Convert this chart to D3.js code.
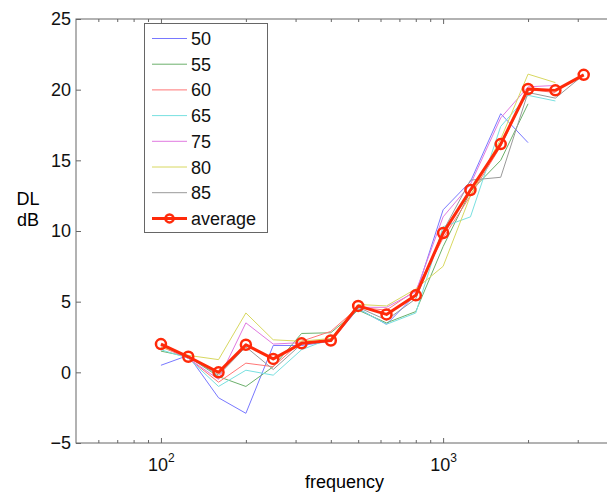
<!DOCTYPE html>
<html>
<head>
<meta charset="utf-8">
<script src="https://cdn.jsdelivr.net/npm/d3@7"></script>
<style>
  body { margin: 0; background: #fff; }
  text { font-family: "Liberation Sans", Arial, sans-serif; }
</style>
</head>
<body>
<div id="chart"></div>
<script>
const freqs = [100, 125, 160, 200, 250, 315, 400, 500, 630, 800, 1000, 1250, 1600, 2000, 2500, 3150];

const s50 = [0.5, 1.2, -1.8, -2.9, 1.9, 1.9, 2.2, 4.5, 3.4, 5.5, 11.5, 13.5, 18.3, 16.25];
const s55 = [1.5, 1.1, -0.3, -1.0, 0.4, 2.75, 2.8, 4.4, 3.5, 4.3, 8.9, 12.8, 15.0, 19.0];
const s60 = [1.8, 1.0, -0.7, 0.65, 0.4, 2.2, 2.9, 4.6, 4.4, 5.8, 9.5, 12.5, 16.0, 20.0, 19.8];
const s65 = [1.6, 1.0, -1.0, 0.15, -0.2, 1.6, 2.4, 4.5, 3.4, 4.2, 10.3, 11.0, 17.4, 19.6, 19.2];
const s75 = [1.9, 1.0, -0.5, 3.5, 2.0, 2.1, 2.2, 4.6, 4.6, 5.7, 11.0, 13.3, 18.0, 20.2, 20.3];
const s80 = [1.8, 1.2, 0.9, 4.2, 2.3, 2.2, 2.4, 4.8, 4.7, 5.9, 7.5, 12.5, 16.5, 21.1, 20.5];
const s85 = [2.0, 1.1, -0.2, 1.8, 0.2, 2.0, 2.3, 4.6, 3.7, 5.2, 10.0, 13.6, 13.8, 19.8, 19.4, 21.05];
const average = [2.0, 1.1, 0.0, 1.95, 0.95, 2.05, 2.25, 4.7, 4.1, 5.45, 9.85, 12.9, 16.15, 20.05, 19.95, 21.05];

const seriesNames = ["50", "55", "60", "65", "75", "80", "85"];
const seriesValues = [s50, s55, s60, s65, s75, s80, s85];
const seriesColors = ["#7878ff", "#6cb06c", "#ff7676", "#78e0e0", "#e07ae0", "#d8d860", "#999999"];

const yTicks = [-5, 0, 5, 10, 15, 20, 25];
const xMajor = [100, 1000];
const xMajorLabels = ["2", "3"];
const xMinor = [60, 70, 80, 90, 200, 300, 400, 500, 600, 700, 800, 900, 2000, 3000];

const width = 607, height = 493;
const margin = { top: 19, right: -6, bottom: 50, left: 76 };

const svg = d3.select("#chart").append("svg")
  .attr("width", width)
  .attr("height", height);

const x = d3.scaleLog()
  .domain([50, 4000])
  .range([margin.left, width - margin.right]);

const y = d3.scaleLinear()
  .domain([-5, 25])
  .range([height - margin.bottom, margin.top]);

const axisColor = "#666";
const fontSize = 18;

// frame
svg.append("rect")
  .attr("x", x(50)).attr("y", y(25))
  .attr("width", x(4000) - x(50)).attr("height", y(-5) - y(25))
  .attr("fill", "none").attr("stroke", axisColor).attr("stroke-width", 1);

function styleAxis(g) {
  g.select(".domain").remove();
  g.selectAll(".tick line").attr("stroke", axisColor);
  g.selectAll(".tick text").attr("fill", "#111").attr("font-size", fontSize)
    .attr("font-family", '"Liberation Sans", Arial, sans-serif');
}

// y axes
svg.append("g")
  .attr("transform", `translate(${x(50)},0)`)
  .call(d3.axisLeft(y).tickValues(yTicks).tickSizeInner(-5).tickSizeOuter(0).tickPadding(5)
    .tickFormat(d => d < 0 ? "\u2212" + Math.abs(d) : d))
  .call(styleAxis);

svg.append("g")
  .attr("transform", `translate(${x(4000)},0)`)
  .call(d3.axisRight(y).tickValues(yTicks).tickSizeInner(-5).tickSizeOuter(0).tickFormat(""))
  .call(styleAxis);

// x axes
const bottom = svg.append("g")
  .attr("transform", `translate(0,${y(-5)})`)
  .call(d3.axisBottom(x).tickValues(xMajor).tickSizeInner(-5).tickSizeOuter(0).tickPadding(12)
    .tickFormat(""))
  .call(styleAxis);

bottom.selectAll(".tick").append("text")
  .attr("y", 28)
  .attr("text-anchor", "middle")
  .attr("font-size", fontSize)
  .attr("fill", "#111")
  .each(function (d, i) {
    const t = d3.select(this);
    t.append("tspan").text("10");
    t.append("tspan").attr("dy", -9).attr("font-size", 12).text(xMajorLabels[i]);
  });

svg.append("g")
  .attr("transform", `translate(0,${y(-5)})`)
  .call(d3.axisBottom(x).tickValues(xMinor).tickSizeInner(-3).tickSizeOuter(0).tickFormat(""))
  .call(styleAxis);

svg.append("g")
  .attr("transform", `translate(0,${y(25)})`)
  .call(d3.axisTop(x).tickValues(xMajor).tickSizeInner(-5).tickSizeOuter(0).tickFormat(""))
  .call(styleAxis);

svg.append("g")
  .attr("transform", `translate(0,${y(25)})`)
  .call(d3.axisTop(x).tickValues(xMinor).tickSizeInner(-3).tickSizeOuter(0).tickFormat(""))
  .call(styleAxis);

// labels
svg.append("text")
  .attr("x", (x(50) + x(4000)) / 2)
  .attr("y", 488)
  .attr("text-anchor", "middle")
  .attr("font-size", fontSize)
  .text("frequency");

svg.append("text")
  .attr("x", 28).attr("y", 205)
  .attr("text-anchor", "middle")
  .attr("font-size", fontSize)
  .text("DL");

svg.append("text")
  .attr("x", 28).attr("y", 226)
  .attr("text-anchor", "middle")
  .attr("font-size", fontSize)
  .text("dB");

// series
const line = d3.line()
  .x((d, i) => x(freqs[i]))
  .y(d => y(d));

seriesValues.forEach((vals, k) => {
  svg.append("path")
    .datum(vals)
    .attr("fill", "none")
    .attr("stroke", seriesColors[k])
    .attr("stroke-width", 1)
    .attr("d", line);
});

const avgColor = "#ff2a0a";

svg.append("path")
  .datum(average)
  .attr("fill", "none")
  .attr("stroke", avgColor)
  .attr("stroke-width", 3)
  .attr("stroke-linejoin", "round")
  .attr("d", line);

svg.append("g")
  .selectAll("circle")
  .data(average)
  .join("circle")
  .attr("cx", (d, i) => x(freqs[i]))
  .attr("cy", d => y(d))
  .attr("r", 5)
  .attr("fill", "none")
  .attr("stroke", avgColor)
  .attr("stroke-width", 2.5);

// legend
const legend = svg.append("g");
legend.append("rect")
  .attr("x", 144.5).attr("y", 23.5)
  .attr("width", 123).attr("height", 209)
  .attr("fill", "#fff")
  .attr("stroke", axisColor);

const legendNames = seriesNames.concat(["average"]);
const legendColors = seriesColors.concat([avgColor]);

legendNames.forEach((name, k) => {
  const ly = 38.5 + k * 25.7;
  const isAvg = name === "average";
  legend.append("line")
    .attr("x1", 152).attr("x2", 187)
    .attr("y1", ly).attr("y2", ly)
    .attr("stroke", legendColors[k])
    .attr("stroke-width", isAvg ? 3 : 1);
  if (isAvg) {
    legend.append("circle")
      .attr("cx", 169.5).attr("cy", ly).attr("r", 4)
      .attr("fill", "none").attr("stroke", avgColor).attr("stroke-width", 2.5);
  }
  legend.append("text")
    .attr("x", 191).attr("y", ly + 6.5)
    .attr("font-size", fontSize)
    .attr("fill", "#111")
    .text(name);
});
</script>
</body>
</html>
